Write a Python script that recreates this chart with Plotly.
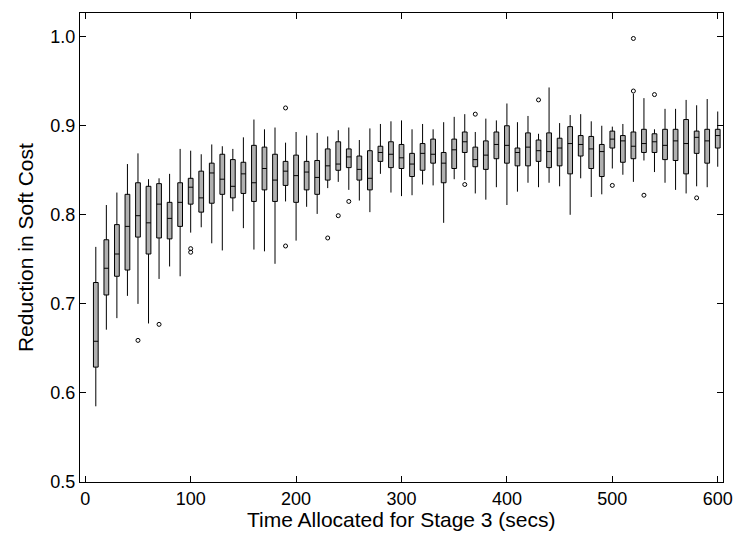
import plotly.graph_objects as go

times = list(range(10, 601, 10))

lower_whisker = [0.585, 0.671, 0.684, 0.709, 0.700, 0.678, 0.728, 0.742, 0.731, 0.780,
                 0.786, 0.768, 0.760, 0.804, 0.785, 0.761, 0.759, 0.745, 0.815, 0.771,
                 0.809, 0.801, 0.830, 0.837, 0.828, 0.816, 0.803, 0.846, 0.825, 0.821,
                 0.822, 0.834, 0.833, 0.791, 0.840, 0.839, 0.824, 0.817, 0.831, 0.811,
                 0.826, 0.836, 0.831, 0.836, 0.832, 0.800, 0.841, 0.820, 0.823, 0.852,
                 0.845, 0.837, 0.861, 0.848, 0.836, 0.828, 0.824, 0.832, 0.831, 0.854]
q1 = [0.629, 0.710, 0.731, 0.738, 0.775, 0.756, 0.774, 0.773, 0.787, 0.812,
      0.803, 0.813, 0.823, 0.819, 0.824, 0.815, 0.828, 0.815, 0.833, 0.814,
      0.828, 0.823, 0.839, 0.850, 0.853, 0.839, 0.828, 0.860, 0.853, 0.852,
      0.843, 0.850, 0.858, 0.836, 0.852, 0.870, 0.854, 0.851, 0.863, 0.858,
      0.855, 0.855, 0.860, 0.853, 0.855, 0.846, 0.866, 0.852, 0.843, 0.875,
      0.859, 0.863, 0.870, 0.870, 0.862, 0.861, 0.846, 0.869, 0.858, 0.875]
median = [0.658, 0.740, 0.756, 0.787, 0.799, 0.791, 0.812, 0.796, 0.814, 0.831,
          0.819, 0.847, 0.840, 0.832, 0.846, 0.836, 0.852, 0.839, 0.849, 0.844,
          0.848, 0.842, 0.855, 0.857, 0.865, 0.851, 0.841, 0.870, 0.868, 0.864,
          0.857, 0.869, 0.868, 0.858, 0.873, 0.882, 0.862, 0.867, 0.879, 0.878,
          0.870, 0.876, 0.872, 0.871, 0.875, 0.880, 0.879, 0.874, 0.871, 0.885,
          0.883, 0.877, 0.880, 0.882, 0.878, 0.883, 0.880, 0.887, 0.883, 0.889]
q3 = [0.724, 0.772, 0.789, 0.823, 0.836, 0.832, 0.835, 0.814, 0.836, 0.841,
      0.849, 0.858, 0.868, 0.862, 0.859, 0.878, 0.876, 0.868, 0.860, 0.867,
      0.860, 0.861, 0.874, 0.882, 0.874, 0.866, 0.872, 0.877, 0.882, 0.879,
      0.869, 0.880, 0.885, 0.870, 0.885, 0.893, 0.876, 0.883, 0.893, 0.900,
      0.875, 0.892, 0.884, 0.892, 0.886, 0.899, 0.889, 0.888, 0.879, 0.894,
      0.889, 0.893, 0.896, 0.891, 0.896, 0.896, 0.907, 0.894, 0.896, 0.896]
upper_whisker = [0.764, 0.811, 0.825, 0.857, 0.869, 0.840, 0.841, 0.846, 0.874, 0.872,
                 0.868, 0.879, 0.877, 0.874, 0.887, 0.907, 0.896, 0.898, 0.881, 0.893,
                 0.889, 0.892, 0.888, 0.895, 0.898, 0.884, 0.897, 0.902, 0.905, 0.906,
                 0.896, 0.902, 0.896, 0.904, 0.910, 0.913, 0.893, 0.908, 0.906, 0.925,
                 0.904, 0.911, 0.891, 0.943, 0.903, 0.912, 0.913, 0.905, 0.900, 0.899,
                 0.902, 0.936, 0.931, 0.896, 0.919, 0.919, 0.929, 0.923, 0.930, 0.916]

outlier_x = [50, 70, 100, 100, 190, 190, 230, 240, 250, 360, 370, 430, 500, 520, 520, 530, 540, 580]
outlier_y = [0.659, 0.677, 0.762, 0.758, 0.920, 0.765, 0.774, 0.799, 0.815, 0.834, 0.913,
             0.929, 0.833, 0.939, 0.998, 0.822, 0.935, 0.819]

x_ticks = [0, 100, 200, 300, 400, 500, 600]
y_ticks = [0.5, 0.6, 0.7, 0.8, 0.9, 1.0]

x_title = "Time Allocated for Stage 3 (secs)"
y_title = "Reduction in Soft Cost"

FONT = "Liberation Sans, Arial, sans-serif"

fig = go.Figure()
fig.add_trace(go.Box(
    x=times, q1=q1, median=median, q3=q3,
    lowerfence=lower_whisker, upperfence=upper_whisker,
    width=4.5, whiskerwidth=0, boxpoints=False,
    fillcolor="#b0b0b0", line=dict(color="black", width=1),
    showlegend=False,
))
fig.add_trace(go.Scatter(
    x=outlier_x, y=outlier_y, mode="markers",
    marker=dict(symbol="circle-open", size=4, color="black", line=dict(width=1)),
    showlegend=False,
))

axis_common = dict(
    showline=True, linecolor="black", linewidth=1, mirror="ticks",
    ticks="inside", ticklen=6, tickcolor="black", tickwidth=1,
    showgrid=False, zeroline=False,
    tickfont=dict(family=FONT, size=18, color="black"),
)
fig.update_xaxes(range=[-5, 605], tickvals=x_ticks, **axis_common)
fig.update_yaxes(range=[0.5, 1.0266], tickvals=y_ticks, tickformat=".1f", **axis_common)

fig.add_annotation(text=x_title, xref="paper", yref="paper", x=0.5, y=-0.0805,
                   xanchor="center", yanchor="middle", showarrow=False,
                   font=dict(family=FONT, size=21, color="black"))
fig.add_annotation(text=y_title, xref="paper", yref="paper", x=-0.0846, y=0.5,
                   xanchor="center", yanchor="middle", showarrow=False, textangle=-90,
                   font=dict(family=FONT, size=21, color="black"))

fig.update_layout(
    width=745, height=534,
    margin=dict(l=80, r=15, t=12, b=52),
    plot_bgcolor="white", paper_bgcolor="white",
)
fig.write_html("out.html", config={"displayModeBar": False},
               post_script="document.body.style.margin='0';document.body.style.overflow='hidden';")
